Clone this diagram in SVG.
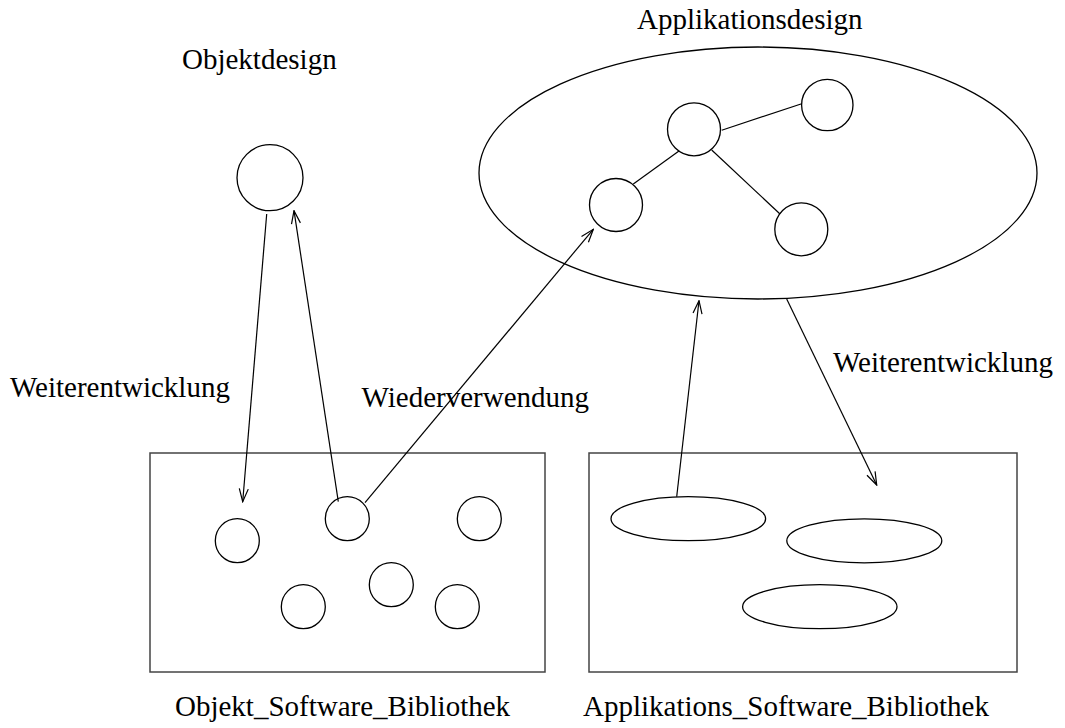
<svg xmlns="http://www.w3.org/2000/svg" width="1065" height="728" viewBox="0 0 1065 728">
<style>
.s{fill:none;stroke:#000;stroke-width:1.3}
.box{fill:none;stroke:#444;stroke-width:1.5}
.c{stroke:#000;stroke-width:1.2;fill:none}
text{font-family:"Liberation Serif","Times New Roman",serif;font-size:29px;fill:#000}
</style>
<defs>
<marker id="ah" viewBox="-14 -6 15 12" refX="0" refY="0" markerWidth="15" markerHeight="12" markerUnits="userSpaceOnUse" orient="auto">
<path d="M-13,-4.5 L0,0 L-13,4.5" fill="none" stroke="#000" stroke-width="1.2"/>
</marker>
</defs>
<rect width="1065" height="728" fill="#fff"/>
<g id="objektdesign">
<circle class="s" cx="270" cy="177.7" r="33"/>
<text x="182" y="69">Objektdesign</text>
</g>
<g id="applikationsdesign">
<ellipse class="s" cx="758" cy="173" rx="279" ry="126"/>
<circle class="s" cx="694" cy="129.3" r="26.5"/>
<circle class="s" cx="827.3" cy="105" r="25.7"/>
<circle class="s" cx="616" cy="205" r="26.5"/>
<circle class="s" cx="801.3" cy="229.3" r="26.5"/>
<line class="c" x1="721.7" y1="130.3" x2="801.7" y2="103.7"/>
<line class="c" x1="679.3" y1="150.7" x2="633.3" y2="184"/>
<line class="c" x1="711.7" y1="150" x2="780" y2="214"/>
<text x="637" y="29">Applikationsdesign</text>
</g>
<g id="objekt_bibliothek">
<rect class="box" x="150" y="453" width="395" height="219"/>
<circle class="s" cx="237.3" cy="540.7" r="22"/>
<circle class="s" cx="347.3" cy="518.7" r="22"/>
<circle class="s" cx="479.3" cy="518.7" r="22"/>
<circle class="s" cx="303.3" cy="606.7" r="22"/>
<circle class="s" cx="391.3" cy="584.7" r="22"/>
<circle class="s" cx="457.3" cy="606.7" r="22"/>
<text x="175" y="716">Objekt_Software_Bibliothek</text>
</g>
<g id="applikations_bibliothek">
<rect class="box" x="589" y="453" width="428" height="219"/>
<ellipse class="s" cx="688.3" cy="518.7" rx="77.3" ry="22"/>
<ellipse class="s" cx="864.3" cy="540.8" rx="77.5" ry="22"/>
<ellipse class="s" cx="819.8" cy="606.7" rx="77.2" ry="22"/>
<text x="583" y="716">Applikations_Software_Bibliothek</text>
</g>
<g id="connectors">
<line class="c" x1="266.7" y1="214" x2="242.7" y2="501.7" marker-end="url(#ah)"/>
<line class="c" x1="338.3" y1="501.7" x2="294" y2="210.7" marker-end="url(#ah)"/>
<line class="c" x1="365" y1="502.7" x2="593.3" y2="229.3" marker-end="url(#ah)"/>
<line class="c" x1="676.7" y1="496.7" x2="699" y2="300.7" marker-end="url(#ah)"/>
<line class="c" x1="786.7" y1="299" x2="876.7" y2="485" marker-end="url(#ah)"/>
<text x="10" y="396.7">Weiterentwicklung</text>
<text x="833" y="372">Weiterentwicklung</text>
<text x="361.5" y="406.7">Wiederverwendung</text>
</g>
</svg>
